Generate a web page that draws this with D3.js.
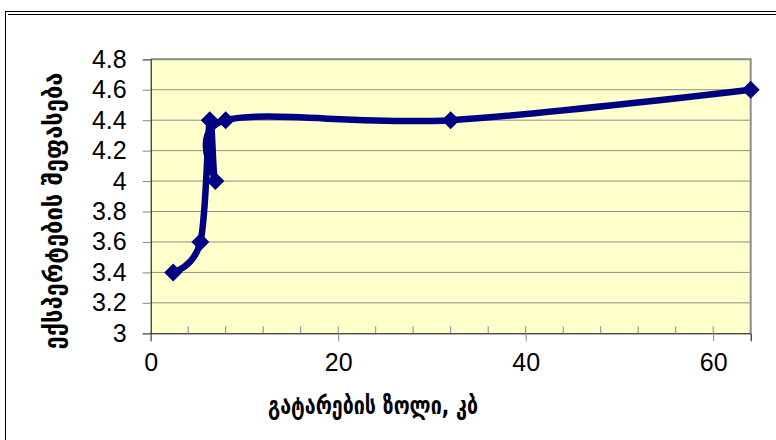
<!DOCTYPE html>
<html><head><meta charset="utf-8">
<script src="https://cdn.jsdelivr.net/npm/d3@7"></script>
<style>html,body{margin:0;padding:0;background:#fff;}svg{display:block;}</style>
</head><body>
<script>
const bitrates = [2.4, 5.3, 6.3, 6.9, 8, 32, 64];
const scores   = [3.4, 3.6, 4.4, 4.0, 4.4, 4.4, 4.6];
const xMajorTicks = [0, 20, 40, 60];
const xMinorTicks = [4, 8, 12, 16, 20, 24, 28, 32, 36, 40, 44, 48, 52, 56, 60, 64];
const yTicks = [3, 3.2, 3.4, 3.6, 3.8, 4, 4.2, 4.4, 4.6, 4.8];
const xTitle = "გატარების ზოლი, კბ";
const yTitle = "ექსპერტების შეფასება";

const W = 776, H = 440;
const L = 150.7, R = 750.7, T = 59.3, B = 333.3;
const svg = d3.select("body").append("svg").attr("width", W).attr("height", H);

// outer frame
svg.append("rect").attr("x", 5.5).attr("y", 11.5).attr("width", 800).attr("height", 500)
  .attr("fill", "none").attr("stroke", "#000").attr("stroke-width", 1);
svg.append("line").attr("x1", 8).attr("x2", 776).attr("y1", 14.5).attr("y2", 14.5)
  .attr("stroke", "#000").attr("stroke-width", 1);

const x = d3.scaleLinear().domain([0, 64]).range([L, R]);
const y = d3.scaleLinear().domain([3, 4.8]).range([B, T]);

// plot background
svg.append("rect").attr("x", L).attr("y", T).attr("width", R - L).attr("height", B - T)
  .attr("fill", "#FFFFCC");

// gridlines
svg.append("g").selectAll("line").data(yTicks.filter(v => v > 3)).join("line")
  .attr("x1", L).attr("x2", R).attr("y1", d => y(d)).attr("y2", d => y(d))
  .attr("stroke", "#8f8f84").attr("stroke-width", 1);

// top/right border
svg.append("path").attr("d", `M${L},${T}H${R}V${B}`).attr("fill", "none")
  .attr("stroke", "#8c8c8c").attr("stroke-width", 2);

// x axis
const xAxis = svg.append("g").attr("transform", `translate(0,${B})`)
  .call(d3.axisBottom(x).tickValues(xMajorTicks).tickSize(8).tickPadding(12).tickFormat(d3.format("d")));
xAxis.select(".domain").attr("stroke", "#000");
xAxis.selectAll(".tick line").attr("stroke", "#888");
xAxis.selectAll("text").attr("font-family", "Liberation Sans, Arial, sans-serif").attr("font-size", 25).attr("fill", "#000");
svg.append("g").selectAll("line").data(xMinorTicks).join("line")
  .attr("x1", d => x(d)).attr("x2", d => x(d)).attr("y1", B).attr("y2", B - 7)
  .attr("stroke", "#888");

// y axis
const yAxis = svg.append("g").attr("transform", `translate(${L},0)`)
  .call(d3.axisLeft(y).tickValues(yTicks).tickSize(8).tickPadding(16).tickFormat(d => String(+d.toFixed(1))));
yAxis.select(".domain").attr("stroke", "#000");
yAxis.selectAll(".tick line").attr("stroke", "#888");
yAxis.selectAll("text").attr("font-family", "Liberation Sans, Arial, sans-serif").attr("font-size", 25).attr("fill", "#000");

// line
const pts = bitrates.map((b, i) => [b, scores[i]]);
const line = d3.line().x(d => x(d[0])).y(d => y(d[1])).curve(d3.curveCardinal.tension(0));
svg.append("path").attr("d", line(pts)).attr("fill", "none")
  .attr("stroke", "#000080").attr("stroke-width", 6.5).attr("stroke-linejoin", "round");

// markers
svg.append("g").selectAll("path").data(pts).join("path")
  .attr("d", d => { const cx = x(d[0]), cy = y(d[1]), r = 9; return `M${cx},${cy - r}L${cx + r},${cy}L${cx},${cy + r}L${cx - r},${cy}Z`; })
  .attr("fill", "#000080");

// titles
svg.append("text").attr("x", 373).attr("y", 414).attr("text-anchor", "middle")
  .attr("font-family", "DejaVu Sans, sans-serif").attr("font-weight", "bold").attr("font-size", 25)
  .attr("textLength", 210).attr("lengthAdjust", "spacingAndGlyphs").text(xTitle);
svg.append("text").attr("transform", "translate(62,211) rotate(-90)").attr("text-anchor", "middle")
  .attr("font-family", "DejaVu Sans, sans-serif").attr("font-weight", "bold").attr("font-size", 25)
  .attr("textLength", 277).attr("lengthAdjust", "spacingAndGlyphs").text(yTitle);
</script>
</body></html>
